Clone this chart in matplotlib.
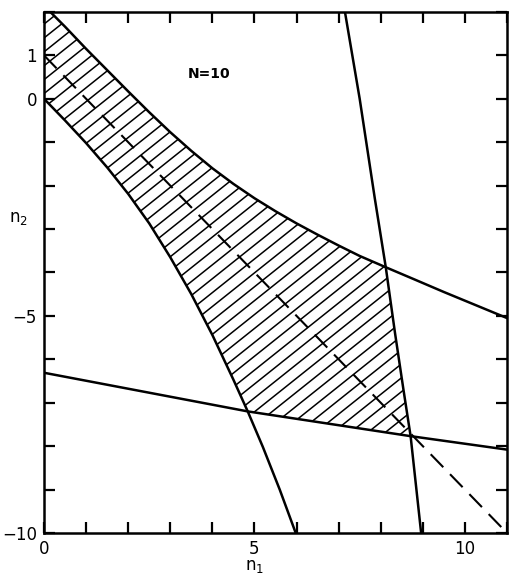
import matplotlib
matplotlib.use("Agg")
import matplotlib.pyplot as plt
import numpy as np
from matplotlib.patches import Polygon

plt.rcParams['font.family'] = 'DejaVu Sans'
plt.rcParams['lines.scale_dashes'] = False

# верхня крива (точки)
up_x = [0.15, 0.5, 1.0, 1.5, 2.0, 2.5, 3.0, 3.5, 4.0, 4.5, 5.0, 5.5, 6.0,
        6.5, 7.0, 7.5, 8.12, 8.8, 9.5, 10.25, 11.0]
up_y = [2.0, 1.66, 1.15, 0.66, 0.17, -0.31, -0.77, -1.2, -1.6, -1.96, -2.29,
        -2.59, -2.87, -3.13, -3.38, -3.62, -3.88, -4.16, -4.45, -4.75, -5.05]
UP_CROSS = 16  # перетин з вертикальною лінією

# нижня крива
low_x = [0.0, 0.5, 1.0, 1.5, 2.0, 2.5, 3.0, 3.5, 4.0, 4.5, 4.84, 5.2, 5.6, 5.98]
low_y = [0.0, -0.5, -1.02, -1.58, -2.19, -2.87, -3.65, -4.5, -5.44, -6.47,
         -7.2, -8.02, -9.0, -10.0]
LOW_CROSS = 10  # перетин з пологою лінією

# майже вертикальна лінія
vert_x = [7.15, 7.5, 7.86, 8.12, 8.34, 8.54, 8.71, 8.96]
vert_y = [2.0, 0.0, -2.3, -3.88, -5.4, -6.7, -7.77, -10.0]
V_TOP, V_BOT = 3, 6  # межі заштрихованої ділянки

# полога лінія внизу
flat_x = [0.0, 4.84, 8.71, 11.0]
flat_y = [-6.31, -7.2, -7.77, -8.08]

# пунктир n1 + n2 = 1
diag_x = [0.0, 11.0]
diag_y = [1.0, -10.0]

x_ticklabels = {0: '0', 5: '5', 10: '10'}
y_ticklabels = {-10: '\u221210', -5: '\u22125', 0: '0', 1: '1'}

fig = plt.figure(figsize=(5.13, 5.77), dpi=100)
ax = fig.add_axes([0.0858, 0.0763, 0.9025, 0.903])
ax.set_xlim(0, 11)
ax.set_ylim(-10, 2)

lw = 1.8
for xs, ys in [(up_x, up_y), (low_x, low_y), (vert_x, vert_y), (flat_x, flat_y)]:
    ax.plot(xs, ys, color='black', lw=lw, solid_joinstyle='round', zorder=3)

# заштрихована область
poly = ([(0.0, 2.0)]
        + list(zip(up_x[:UP_CROSS + 1], up_y[:UP_CROSS + 1]))
        + list(zip(vert_x[V_TOP + 1:V_BOT + 1], vert_y[V_TOP + 1:V_BOT + 1]))
        + list(zip(low_x[:LOW_CROSS + 1], low_y[:LOW_CROSS + 1]))[::-1])
patch = Polygon(poly, closed=True, facecolor='none', edgecolor='none')
ax.add_patch(patch)

slope = 0.774
hx = np.array([0, 11])
for c in np.arange(-14.6, 2.3, 0.32):
    ln, = ax.plot(hx, slope * hx + c, color='black', lw=1.1, zorder=2)
    ln.set_clip_path(patch)

ax.plot(diag_x, diag_y, color='black', lw=1.5, linestyle=(0, (13, 7)), zorder=3)

ax.text(3.93, 0.56, 'N=10', fontsize=10, fontweight='bold', ha='center', va='center')

ax.set_xticks(range(0, 12))
ax.set_xticklabels([x_ticklabels.get(i, '') for i in range(0, 12)])
ax.set_yticks(range(-10, 3))
ax.set_yticklabels([y_ticklabels.get(i, '') for i in range(-10, 3)])
ax.tick_params(direction='in', length=8, width=1.6, labelsize=12,
               top=True, right=True, pad=5)
for sp in ax.spines.values():
    sp.set_linewidth(1.8)

ax.text(-0.6, -2.75, 'n$_2$', fontsize=12, ha='center', va='center', clip_on=False)
fig.text(0.497, 0.003, 'n$_1$', fontsize=12, ha='center', va='bottom')

fig.savefig('out.png', dpi=100)
